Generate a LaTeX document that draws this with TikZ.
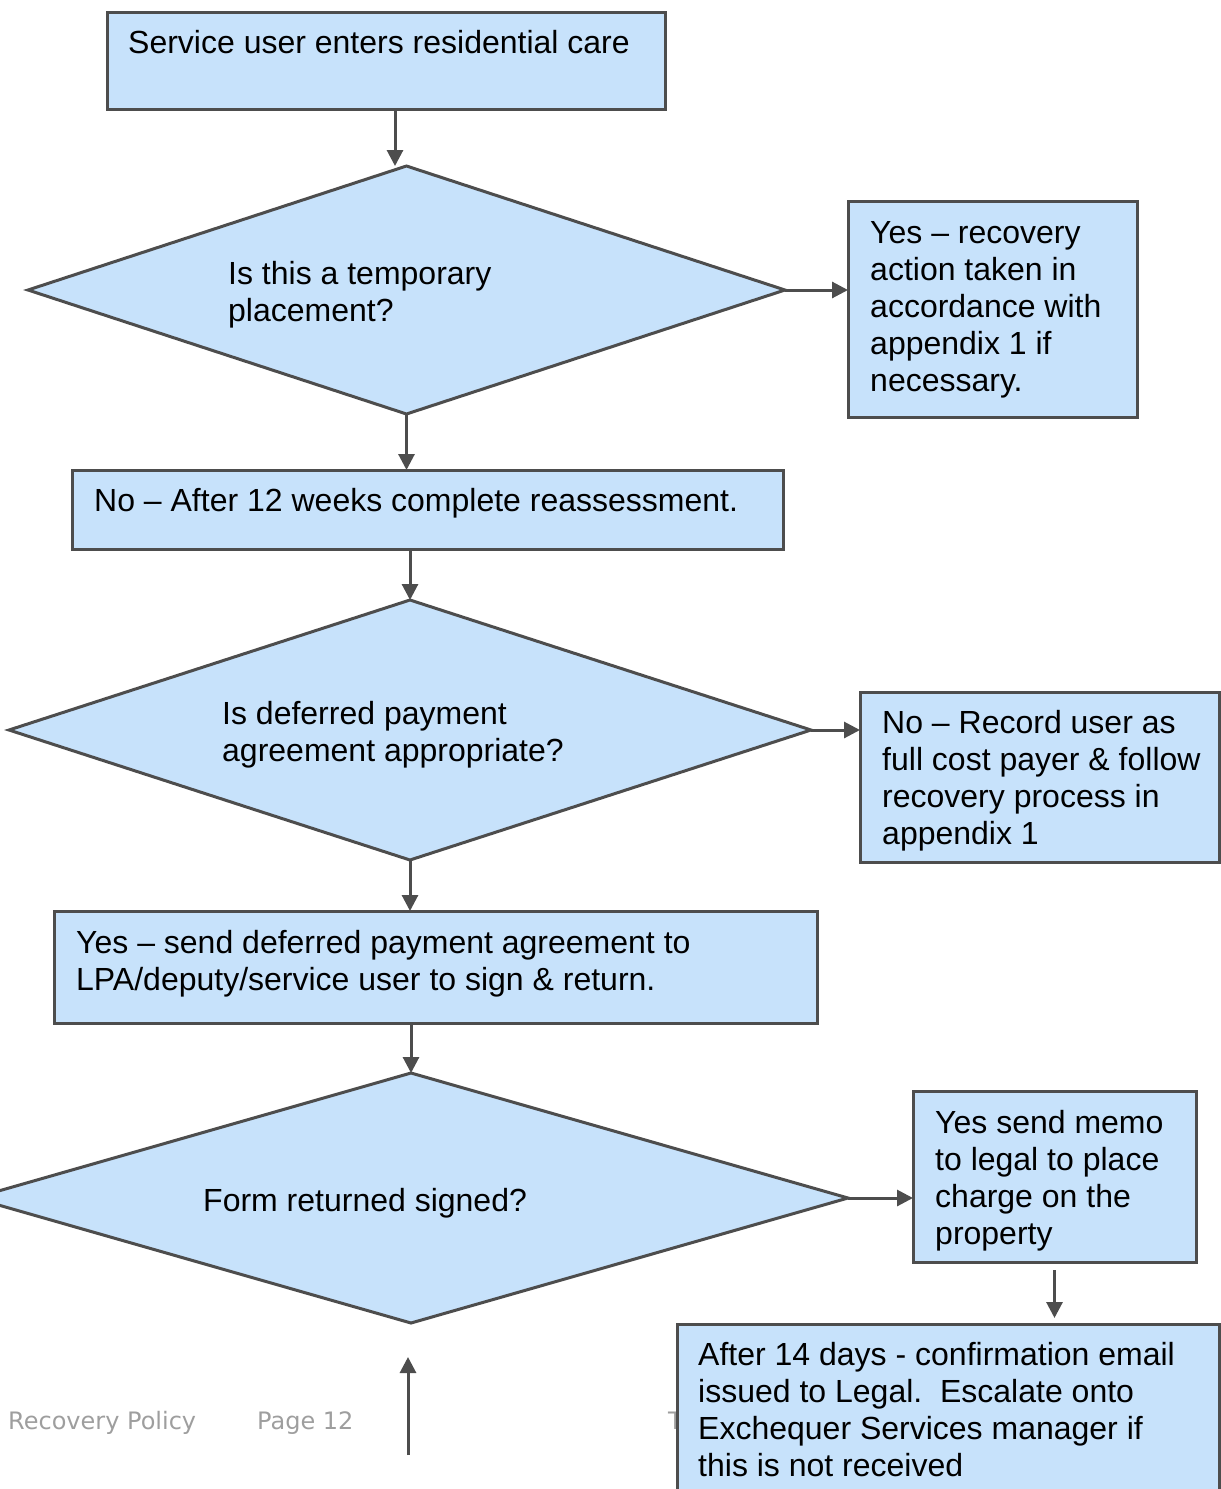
\documentclass[tikz,border=0pt]{standalone}
\usepackage{fontspec}
\setmainfont{Liberation Sans}
\newfontfamily\footfont{DejaVu Sans}
\usetikzlibrary{shapes.geometric,arrows.meta}
\definecolor{boxblue}{RGB}{199,226,251}
\definecolor{edgegray}{RGB}{77,77,77}
\definecolor{footgray}{RGB}{158,158,158}
\tikzset{
  flowbox/.style={rectangle,draw=edgegray,fill=boxblue,line width=3pt,anchor=north west,inner sep=0pt,outer sep=0pt},
  decision/.style={diamond,draw=edgegray,fill=boxblue,line width=3pt,inner sep=0pt,outer sep=0pt},
  flowtext/.style={anchor=base west,align=left,inner sep=0pt,font=\fontsize{32}{36.8}\selectfont},
  foottext/.style={anchor=base west,inner sep=0pt,text=footgray,font=\footfont\fontsize{24}{28}\selectfont},
  flowarrow/.style={draw=edgegray,line width=3pt,-{Triangle[length=16pt,width=16pt]}}
}
\begin{document}
\begin{tikzpicture}[x=1pt,y=-1pt]
  \useasboundingbox (0,0) rectangle (1221,1489);
  % page footer, partly hidden by the last box
  \node[foottext] (foot1) at (8,1429) {Recovery Policy};
  \node[foottext] (foot2) at (257,1429) {Page 12};
  \node[foottext] (foot3) at (668,1429) {T};
  % shapes
  \node[flowbox,minimum width=558,minimum height=97] (b1) at (107,12) {};
  \node[decision,minimum width=757,minimum height=248] (d1) at (406.5,290) {};
  \node[flowbox,minimum width=289,minimum height=216] (b2) at (848,201) {};
  \node[flowbox,minimum width=711,minimum height=79] (b3) at (72,470) {};
  \node[decision,minimum width=802,minimum height=260] (d2) at (410,730) {};
  \node[flowbox,minimum width=359,minimum height=170] (b4) at (860,692) {};
  \node[flowbox,minimum width=763,minimum height=112] (b5) at (54,911) {};
  \node[decision,minimum width=874,minimum height=250] (d3) at (411,1198) {};
  \node[flowbox,minimum width=283,minimum height=171] (b6) at (913,1091) {};
  \node[flowbox,minimum width=542,minimum height=180] (b7) at (677,1324) {};
  % texts (base = last line)
  \node[flowtext] (t1) at (128,53) {Service user enters residential care};
  \node[flowtext] (q1) at (228,321) {Is this a temporary\\placement?};
  \node[flowtext] (t2) at (870,391) {Yes -- recovery\\action taken in\\accordance with\\appendix 1 if\\necessary.};
  \node[flowtext] (t3) at (94,511) {No -- After 12 weeks complete reassessment.};
  \node[flowtext] (q2) at (222,761) {Is deferred payment\\agreement appropriate?};
  \node[flowtext] (t4) at (882,844) {No -- Record user as\\full cost payer \& follow\\recovery process in\\appendix 1};
  \node[flowtext] (t5) at (76,990) {Yes -- send deferred payment agreement to\\LPA/deputy/service user to sign \& return.};
  \node[flowtext] (q3) at (203,1211) {Form returned signed?};
  \node[flowtext] (t6) at (935,1244) {Yes send memo\\to legal to place\\charge on the\\property};
  \node[flowtext] (t7) at (698,1476) {After 14 days - confirmation email\\issued to Legal.\ \ Escalate onto\\Exchequer Services manager if\\this is not received};
  % connectors
  \draw[flowarrow] ([xshift=9pt]b1.south) -- ([xshift=9pt]b1.south |- d1.north);
  \draw[flowarrow] (d1.east) -- (d1.east -| b2.west);
  \draw[flowarrow] (d1.south) -- (d1.south |- b3.north);
  \draw[flowarrow] (d2.north |- b3.south) -- (d2.north);
  \draw[flowarrow] (d2.east) -- (d2.east -| b4.west);
  \draw[flowarrow] (d2.south) -- (d2.south |- b5.north);
  \draw[flowarrow] (d3.north |- b5.south) -- (d3.north);
  \draw[flowarrow] (d3.east) -- (d3.east -| b6.west);
  \draw[flowarrow] ([yshift=-8pt]b6.south) -- ([yshift=6pt]b6.south |- b7.north);
  \coordinate (up0) at (408,1455);
  \coordinate (up1) at (408,1357);
  \draw[flowarrow] (up0) -- (up1);
\end{tikzpicture}
\end{document}
